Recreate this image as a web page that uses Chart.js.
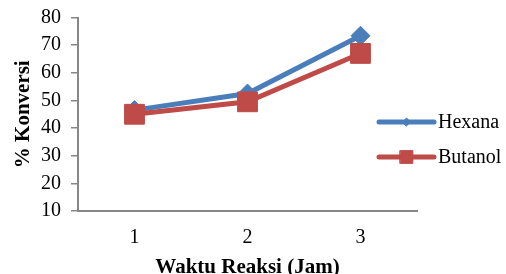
<!DOCTYPE html>
<html>
<head>
<meta charset="utf-8">
<script src="https://cdn.jsdelivr.net/npm/chart.js@4.4.1/dist/chart.umd.min.js"></script>
<style>
	html, body { margin: 0; padding: 0; background: #fff; }
	#wrap { width: 506px; height: 274px; }
</style>
</head>
<body>
<div id="wrap"><canvas id="grafik"></canvas></div>
<script>
// data dari gambar
let waktu = ["1", "2", "3"];
let hexana = [46.5, 52.5, 73.4];
let butanol = [45, 49.5, 67];
let yTicks = [10, 20, 30, 40, 50, 60, 70, 80];

const serif = "'Liberation Serif', 'Times New Roman', serif";
const abu = "#878787";

// legenda sendiri: garis + marker, seperti di Excel
const legendaExcel = {
	id: "legendaExcel",
	afterDraw(chart, args, opts) {
		const ctx = chart.ctx;
		const sets = opts.urutan.map((i) => chart.data.datasets[i]);
		ctx.save();
		sets.forEach((ds, k) => {
			let y = opts.y + k * opts.jarak;
			ctx.strokeStyle = ds.borderColor;
			ctx.lineWidth = ds.borderWidth;
			ctx.lineCap = "round";
			ctx.beginPath();
			ctx.moveTo(opts.x, y);
			ctx.lineTo(opts.x + opts.panjang, y);
			ctx.stroke();
			ctx.fillStyle = ds.pointBackgroundColor;
			ctx.strokeStyle = ds.pointBackgroundColor;
			ctx.lineWidth = 1;
			Chart.helpers.drawPoint(ctx, { pointStyle: ds.pointStyle, radius: ds.legendRadius, rotation: 0, borderWidth: 1 }, opts.x + opts.panjang / 2, y);
			ctx.fillStyle = "#000";
			ctx.font = "20px " + serif;
			ctx.textBaseline = "middle";
			ctx.fillText(ds.label, opts.x + opts.panjang + 4, y + 1);
		});
		ctx.restore();
	}
};

new Chart(document.getElementById("grafik"), {
	type: "line",
	data: {
		labels: waktu,
		datasets: [
			{
				label: "Hexana",
				data: hexana,
				borderColor: "#4a7ebb",
				borderWidth: 5,
				pointStyle: "rectRot",
				pointRadius: 9.5,
				pointHoverRadius: 9.5,
				pointBackgroundColor: "#4a7ebb",
				pointBorderColor: "#4a7ebb",
				pointBorderWidth: 1,
				legendRadius: 4,
				tension: 0,
				order: 1
			},
			{
				label: "Butanol",
				data: butanol,
				borderColor: "#be4b48",
				borderWidth: 5,
				pointStyle: "rect",
				pointRadius: 14,
				pointHoverRadius: 14,
				pointBackgroundColor: "#be4b48",
				pointBorderColor: "#be4b48",
				pointBorderWidth: 1,
				legendRadius: 9,
				tension: 0,
				order: 0
			}
		]
	},
	options: {
		responsive: true,
		maintainAspectRatio: false,
		animation: false,
		events: [],
		layout: { padding: { top: 17.5, right: 89, bottom: 0, left: 0 } },
		plugins: {
			legend: { display: false },
			tooltip: { enabled: false },
			legendaExcel: { x: 379, y: 122, jarak: 35, panjang: 55, urutan: [0, 1] }
		},
		scales: {
			x: {
				offset: true,
				grid: { display: false, drawTicks: false },
				border: { display: true, color: abu, width: 2 },
				ticks: { color: "#000", font: { family: serif, size: 20, lineHeight: 1.2 }, padding: 15, autoSkip: false, maxRotation: 0 },
				title: {
					display: true,
					text: "Waktu Reaksi (Jam)",
					color: "#000",
					font: { family: serif, size: 21, weight: "bold", lineHeight: 1.2 },
					padding: { top: 5, bottom: -6 }
				},
				afterFit: (axis) => { axis.height = 63; }
			},
			y: {
				min: 10,
				max: 80,
				afterBuildTicks: (axis) => { axis.ticks = yTicks.map((v) => ({ value: v })); },
				grid: { display: true, drawOnChartArea: false, drawTicks: true, tickLength: 7, color: abu, lineWidth: 1.5 },
				border: { display: true, color: abu, width: 2 },
				ticks: { color: "#000", font: { family: serif, size: 20 }, padding: 10, autoSkip: false },
				title: {
					display: true,
					text: "% Konversi",
					color: "#000",
					font: { family: serif, size: 21, weight: "bold", lineHeight: 1.2 },
					padding: { top: 11, bottom: 6 }
				},
				afterFit: (axis) => { axis.width = 78; axis.paddingTop = 0; axis.paddingBottom = 0; }
			}
		}
	},
	plugins: [legendaExcel]
});
</script>
</body>
</html>
